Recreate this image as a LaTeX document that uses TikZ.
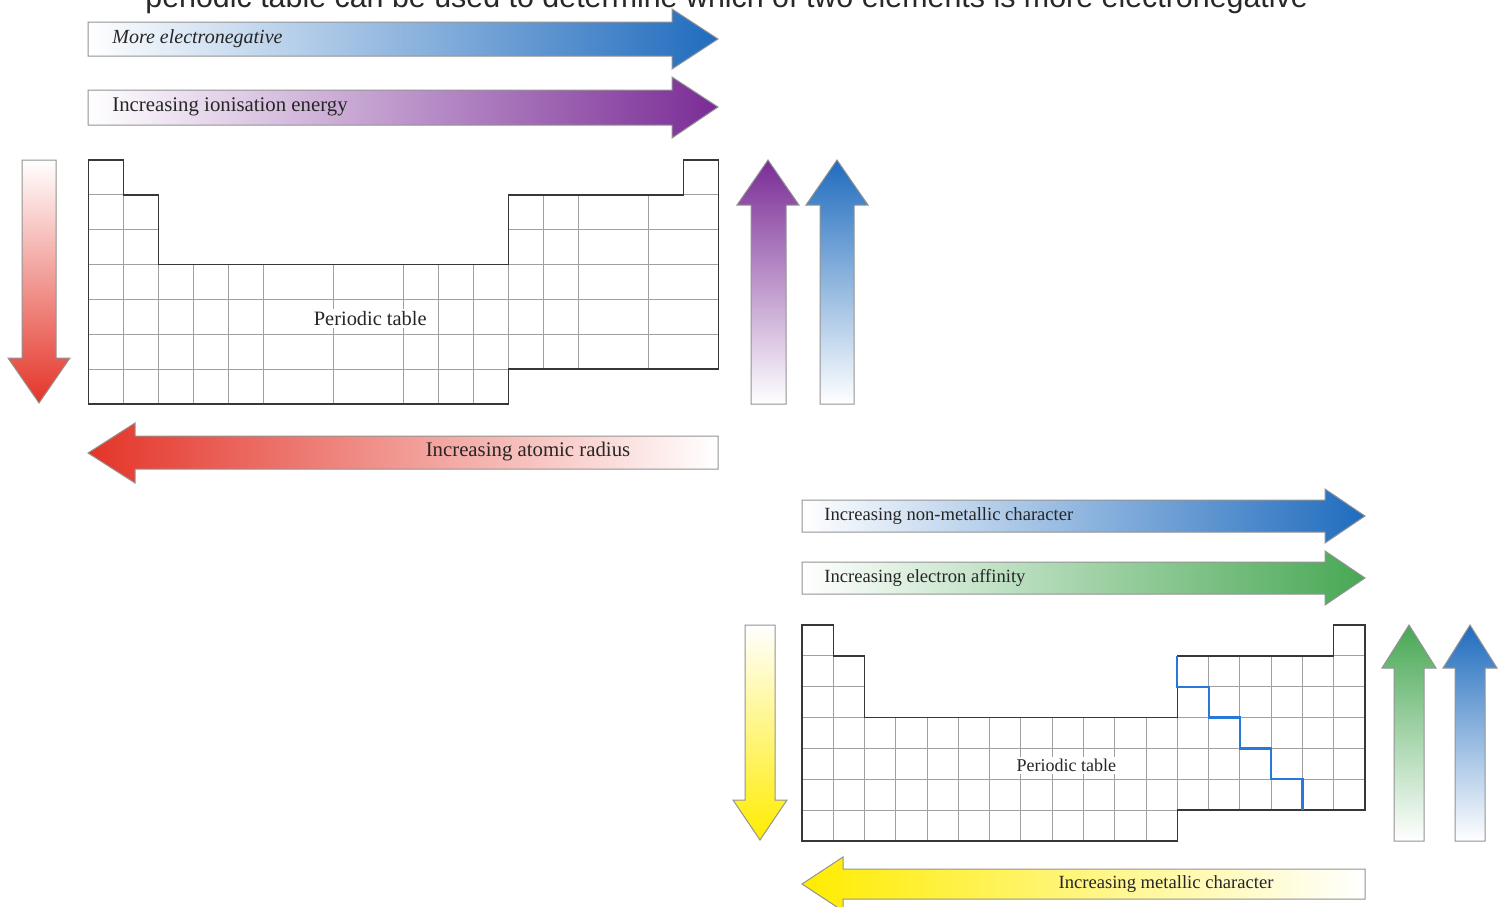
\documentclass[tikz,border=0pt]{standalone}
\usepackage{fontspec}
\setmainfont{Liberation Serif}
\newfontfamily\captionfont{Liberation Sans}
\usepackage{xcolor}
\usepackage{tikz}
\usetikzlibrary{positioning, calc}
\definecolor{enblue}{RGB}{32,108,190}
\definecolor{iepurple}{RGB}{122,44,150}
\definecolor{radiusred}{RGB}{228,52,40}
\definecolor{affgreen}{RGB}{72,168,84}
\definecolor{metalyellow}{RGB}{255,236,0}
\definecolor{gridgray}{RGB}{160,160,160}
\definecolor{edgegray}{RGB}{55,55,55}
\definecolor{metalloid}{RGB}{40,120,215}
\definecolor{captiongray}{RGB}{40,40,40}

\begin{document}
\begin{tikzpicture}[x=0.5pt, y=-0.5pt, every node/.style={text=black!85, inner sep=1pt},
  toplabel/.style={font=\fontsize{10.4}{12}\selectfont},
  lowlabel/.style={font=\fontsize{9.3}{11}\selectfont},
  cellline/.style={gridgray, line width=0.5pt},
  tableedge/.style={edgegray, line width=0.7pt},
  arrowedge/.style={draw=gray!85, line width=0.5pt}]
  \useasboundingbox (0,0) rectangle (1506,906);
  % Cut-off caption line
  \node[anchor=base west, text=captiongray, font=\captionfont\fontsize{15.2}{18}\selectfont]
    (cuttext) at (143,7) {periodic table can be used to determine which of two elements is more electronegative};

  % Electronegativity and ionisation energy
  \shadedraw[arrowedge, left color=white, right color=enblue]
    (88,22) -- (672,22) -- (672,9) -- (718,39) -- (672,69) -- (672,56) -- (88,56) -- cycle;
  \node[toplabel, anchor=west, font=\itshape] (enlabel) at (110,39) {More electronegative};
  \shadedraw[arrowedge, left color=white, right color=iepurple]
    (88,90) -- (672,90) -- (672,77) -- (718,107) -- (672,138) -- (672,125) -- (88,125) -- cycle;
  \node[toplabel, anchor=west] (ielabel) at (110,107) {Increasing ionisation energy};
  % Down the group
  \shadedraw[arrowedge, top color=white, bottom color=radiusred]
    (22,160) -- (56,160) -- (56,358) -- (70,358) -- (39,403) -- (8,358) -- (22,358) -- cycle;
  % Up the group
  \shadedraw[arrowedge, top color=iepurple, bottom color=white]
    (751,404) -- (751,205) -- (737,205) -- (768,160) -- (799,205) -- (786,205) -- (786,404) -- cycle;
  \shadedraw[arrowedge, top color=enblue, bottom color=white]
    (820,404) -- (820,205) -- (806,205) -- (837,160) -- (868,205) -- (854,205) -- (854,404) -- cycle;
  % Atomic radius
  \shadedraw[arrowedge, left color=radiusred, right color=white]
    (718,436) -- (135,436) -- (135,423) -- (88,453) -- (135,483) -- (135,469) -- (718,469) -- cycle;
  \node[toplabel] (radiuslabel) at (528,452) {Increasing atomic radius};

  % Periodic table (top)
  \begin{scope}[shift={(88.5,160)}, x=17.5pt, y=-17.43pt]
    \draw[cellline] (1,1) -- (1,7);
    \foreach \k in {2,3,4,5,7,9,10,11} \draw[cellline] (\k,3) -- (\k,7);
    \draw[cellline] (12,3) -- (12,6);
    \foreach \k in {13,14,16} \draw[cellline] (\k,1) -- (\k,6);
    \draw[cellline] (0,1) -- (1,1) (17,1) -- (18,1);
    \foreach \j in {2,3} \draw[cellline] (0,\j) -- (2,\j) (12,\j) -- (18,\j);
    \foreach \j in {4,5} \draw[cellline] (0,\j) -- (18,\j);
    \draw[cellline] (0,6) -- (12,6);
    \draw[tableedge] (0,0) -| (1,1) -| (2,3) -| (12,1) -| (17,0) -| (18,6) -| (12,7) -| (0,0) -- cycle;
    \node[fill=white, font=\fontsize{10.2}{12}\selectfont] (ptop) at (8.05,4.55) {Periodic table};
  \end{scope}

  % Non-metallic character and electron affinity
  \shadedraw[arrowedge, left color=white, right color=enblue]
    (802,500) -- (1325,500) -- (1325,489) -- (1365,516) -- (1325,543) -- (1325,532) -- (802,532) -- cycle;
  \node[lowlabel, anchor=west] (nmlabel) at (822,516) {Increasing non-metallic character};
  \shadedraw[arrowedge, left color=white, right color=affgreen]
    (802,562) -- (1325,562) -- (1325,551) -- (1365,578) -- (1325,605) -- (1325,594) -- (802,594) -- cycle;
  \node[lowlabel, anchor=west] (ealabel) at (822,578) {Increasing electron affinity};
  % Down the group
  \shadedraw[arrowedge, top color=white, bottom color=metalyellow]
    (745,625) -- (775,625) -- (775,800) -- (787,800) -- (760,840) -- (733,800) -- (745,800) -- cycle;
  % Up the group
  \shadedraw[arrowedge, top color=affgreen, bottom color=white]
    (1394,841) -- (1394,668) -- (1382,668) -- (1409,625) -- (1436,668) -- (1424,668) -- (1424,841) -- cycle;
  \shadedraw[arrowedge, top color=enblue, bottom color=white]
    (1455,841) -- (1455,668) -- (1443,668) -- (1470,625) -- (1497,668) -- (1485,668) -- (1485,841) -- cycle;
  % Metallic character
  \shadedraw[arrowedge, left color=metalyellow, right color=white]
    (1365,869) -- (843,869) -- (843,857) -- (802,884) -- (843,911) -- (843,899) -- (1365,899) -- cycle;
  \node[lowlabel] (metallabel) at (1166,884) {Increasing metallic character};

  % Periodic table (bottom)
  \begin{scope}[shift={(802,625)}, x=15.64pt, y=-15.43pt]
    \draw[cellline] (1,1) -- (1,7);
    \foreach \k in {2,...,11} \draw[cellline] (\k,3) -- (\k,7);
    \draw[cellline] (12,3) -- (12,6);
    \foreach \k in {13,...,17} \draw[cellline] (\k,1) -- (\k,6);
    \draw[cellline] (0,1) -- (1,1) (17,1) -- (18,1);
    \foreach \j in {2,3} \draw[cellline] (0,\j) -- (2,\j) (12,\j) -- (18,\j);
    \foreach \j in {4,5} \draw[cellline] (0,\j) -- (18,\j);
    \draw[cellline] (0,6) -- (12,6);
    \draw[tableedge] (0,0) -| (1,1) -| (2,3) -| (12,1) -| (17,0) -| (18,6) -| (12,7) -| (0,0) -- cycle;
    \draw[metalloid, line width=1.1pt] (12,1) -- (12,2) -| (13,3) -| (14,4) -| (15,5) -| (16,6);
    \node[fill=white, font=\fontsize{9}{11}\selectfont] (pbottom) at (8.45,4.55) {Periodic table};
  \end{scope}
\end{tikzpicture}
\end{document}
